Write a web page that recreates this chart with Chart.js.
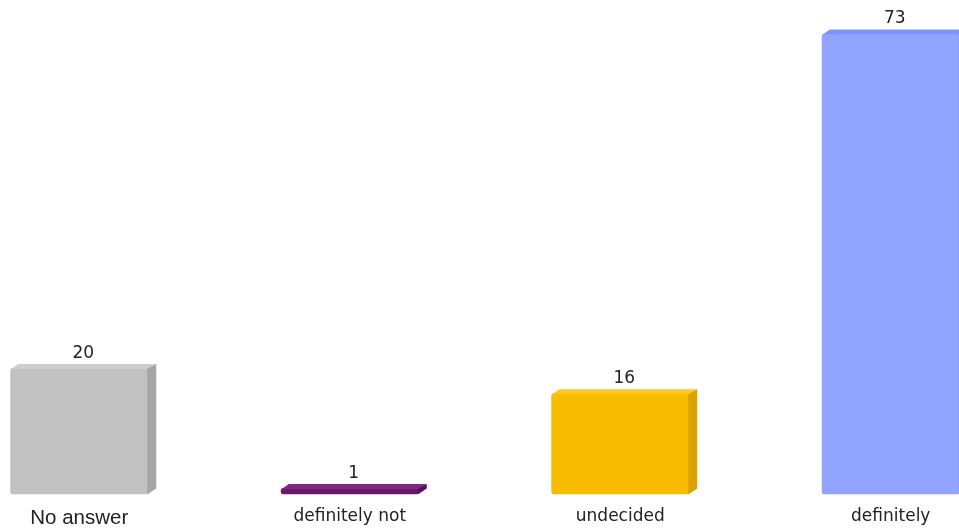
<!DOCTYPE html>
<html>
<head>
<meta charset="utf-8">
<script src="https://cdn.jsdelivr.net/npm/chart.js@4.4.1/dist/chart.umd.min.js"></script>
<style>
html,body{margin:0;padding:0;background:#fff;overflow:hidden;width:959px;height:528px;}
#wrap{position:absolute;left:-56px;top:0;width:1082px;height:547px;}
</style>
</head>
<body>
<div id="wrap"><canvas id="c" width="1082" height="547"></canvas></div>
<script>
const categories = ["No answer", "definitely not", "undecided", "definitely"];
const values = [20, 1, 16, 73];
const frontColors = ["#c1c1c1", "#6e166f", "#f8bd00", "#91a4ff"];
const sideColors = ["#a6a6a6", "#55105a", "#d9a200", "#7a8cf0"];
const topColors = ["#cdcdcd", "#7d2a7e", "#fcc820", "#7f93fb"];

const depthPlugin = {
  id: 'depth3d',
  afterDatasetsDraw(chart) {
    const ctx = chart.ctx;
    const meta = chart.getDatasetMeta(0);
    const d = 8, dy = 4;
    meta.data.forEach((bar, i) => {
      const p = bar.getProps(['x','y','base','width'], true);
      const L = p.x - p.width/2, R = p.x + p.width/2, T = p.y, B = p.base;
      ctx.save();
      ctx.fillStyle = sideColors[i];
      ctx.beginPath();
      ctx.moveTo(R - 1, T);
      ctx.lineTo(R + d, T - dy);
      ctx.lineTo(R + d, B - dy - 2);
      ctx.lineTo(R - 1, B);
      ctx.closePath();
      ctx.fill();
      ctx.fillStyle = topColors[i];
      ctx.beginPath();
      ctx.moveTo(L + 1, T + 1);
      ctx.lineTo(L + d, T - dy);
      ctx.lineTo(R + d, T - dy);
      ctx.lineTo(R - 1, T + 1);
      ctx.closePath();
      ctx.fill();
      ctx.fillStyle = '#222';
      ctx.font = '17px "DejaVu Sans"';
      ctx.textAlign = 'center';
      ctx.textBaseline = 'alphabetic';
      ctx.fillText(String(values[i]), p.x + d/2, T - dy - 6);
      ctx.restore();
    });
  }
};

new Chart(document.getElementById('c'), {
  type: 'bar',
  data: {
    labels: categories,
    datasets: [{
      data: values,
      backgroundColor: frontColors,
      borderWidth: 0,
      borderRadius: 3,
      borderSkipped: false,
      categoryPercentage: 1,
      barPercentage: 0.51
    }]
  },
  options: {
    responsive: false,
    animation: false,
    devicePixelRatio: 1,
    layout: { padding: { top: 0, bottom: 4, left: 0, right: 0 } },
    plugins: { legend: { display: false }, tooltip: { enabled: false } },
    scales: {
      x: {
        grid: { display: false, drawTicks: false },
        border: { display: false },
        ticks: {
          autoSkip: false,
          maxRotation: 0,
          padding: 12,
          color: '#222',
          font: (ctx) => ctx.index === 0
            ? { family: '"Liberation Sans", Arial', size: 20.5 }
            : { family: '"DejaVu Sans"', size: 17 }
        }
      },
      y: {
        display: false,
        min: 0,
        max: 78.3
      }
    }
  },
  plugins: [depthPlugin]
});
</script>
</body>
</html>
